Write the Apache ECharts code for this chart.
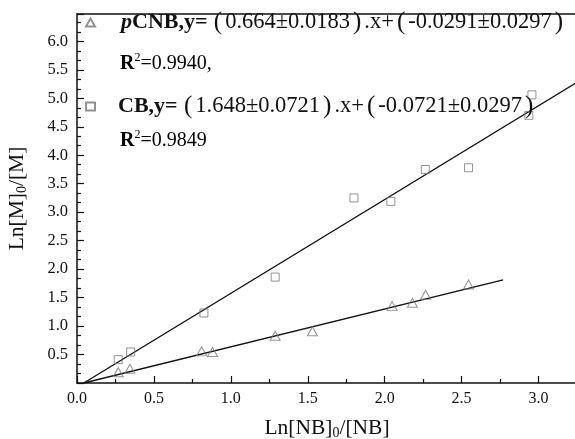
<!DOCTYPE html>
<html>
<head>
<meta charset="utf-8">
<script src="https://cdn.jsdelivr.net/npm/echarts@6/dist/echarts.min.js"></script>
<style>
  html, body { margin: 0; padding: 0; background: #fff; }
  #main { width: 575px; height: 439px; }
</style>
</head>
<body>
<div id="main"></div>
<script>
// 数据：pCNB（三角形）
const pcnbX = [0.268, 0.344, 0.81, 0.881, 1.288, 1.53, 2.048, 2.18, 2.266, 2.545];
const pcnbY = [0.19, 0.25, 0.555, 0.545, 0.83, 0.91, 1.35, 1.41, 1.55, 1.73];
// 数据：CB（方形）
const cbX = [0.268, 0.349, 0.825, 1.288, 1.8, 2.04, 2.264, 2.545, 2.937, 2.957];
const cbY = [0.41, 0.545, 1.23, 1.86, 3.25, 3.19, 3.75, 3.78, 4.7, 5.06];
// 拟合直线端点
const pcnbFitX = [0.044, 2.77];
const pcnbFitY = [0, 1.81];
const cbFitX = [0.044, 3.25];
const cbFitY = [0, 5.28];
// 图例文字
const pcnbEq = ['0.664±0.0183', '-0.0291±0.0297'];
const cbEq = ['1.648±0.0721', '-0.0721±0.0297'];
const pcnbR2 = '=0.9940,';
const cbR2 = '=0.9849';

const zip = (xs, ys) => xs.map((x, i) => [x, ys[i]]);
const font = '"Liberation Serif", "Times New Roman", serif';

const myChart = echarts.init(document.getElementById('main'));

const richEq = {
  i: { fontFamily: font, fontSize: 22, fontStyle: 'italic', fontWeight: 'bold', color: '#111', padding: [0, 0, 0, 21] },
  b: { fontFamily: font, fontSize: 22, fontWeight: 'bold', color: '#111' },
  b2: { fontFamily: font, fontSize: 22, fontWeight: 'bold', color: '#111', padding: [0, 0, 0, 18] },
  n: { fontFamily: font, fontSize: 22.5, color: '#111' },
  p: { fontFamily: font, fontSize: 25, color: '#111', padding: [0, 3, 0, 3] },
  r: { fontFamily: font, fontSize: 20, fontWeight: 'bold', color: '#111' },
  rn: { fontFamily: font, fontSize: 20, color: '#111' },
  s: { fontFamily: font, fontSize: 12, color: '#111', padding: [0, 0, 12, 0] },
};

// 拼接方程文字
const eqText = (eq) => `{p|(}{n|${eq[0]}}{p|)}{n|.x+}{p|(}{n|${eq[1]}}{p|)}`;

// 坐标轴名称（带下标0）
const nameRich = {
  n: { fontFamily: font, fontSize: 21.5, color: '#111' },
  s: { fontFamily: font, fontSize: 14, color: '#111', padding: [10, 0, 0, 0] },
};

const halfStep = (v) => Math.abs(v * 2 - Math.round(v * 2)) < 1e-6;

const options = {
  animation: false,
  grid: { left: 77, right: -2, top: 14, bottom: 56, outerBoundsMode: 'none' },
  legend: {
    orient: 'vertical',
    left: 85,
    top: 10,
    padding: 0,
    itemWidth: 9,
    itemHeight: 8,
    itemGap: 59,
    selectedMode: false,
    data: ['pCNB', 'CB'],
    formatter(name) {
      if (name === 'pCNB') return `{i|p}{b|CNB,y=} ${eqText(pcnbEq)}`;
      return `{b2|CB,y=} ${eqText(cbEq)}`;
    },
    textStyle: { lineHeight: 24, rich: richEq },
  },
  graphic: [
    {
      type: 'text', left: 120, top: 52,
      style: { text: `{r|R}{s|2}{rn|${pcnbR2}}`, rich: richEq },
    },
    {
      type: 'text', left: 120, top: 129,
      style: { text: `{r|R}{s|2}{rn|${cbR2}}`, rich: richEq },
    },
  ],
  xAxis: [
    {
      type: 'value',
      min: 0,
      max: 3.25,
      interval: 0.5,
      name: '{n|Ln[NB]}{s|0}{n|/[NB]}',
      nameLocation: 'middle',
      nameGap: 33,
      nameTextStyle: { rich: nameRich },
      axisLine: { show: true, lineStyle: { color: '#111', width: 1.5 } },
      axisTick: { show: true, inside: true, length: 7, lineStyle: { color: '#111', width: 1.2 } },
      minorTick: { show: true, splitNumber: 2, length: 4, lineStyle: { color: '#111', width: 1.2 } },
      splitLine: { show: false },
      axisLabel: {
        margin: 8,
        fontFamily: font,
        fontSize: 16,
        color: '#111',
        formatter(v) {
          return halfStep(v) ? v.toFixed(1) : '';
        },
      },
    },
    {
      type: 'value',
      position: 'top',
      min: 0,
      max: 3.25,
      axisLine: { show: true, onZero: false, lineStyle: { color: '#111', width: 1.5 } },
      axisTick: { show: false },
      axisLabel: { show: false },
      splitLine: { show: false },
    },
  ],
  yAxis: {
    type: 'value',
    min: 0,
    max: 6.48,
    interval: 0.5,
    name: '{n|Ln[M]}{s|0}{n|/[M]}',
    nameLocation: 'middle',
    nameGap: 48,
    nameTextStyle: { rich: nameRich },
    axisLine: { show: true, lineStyle: { color: '#111', width: 1.5 } },
    axisTick: { show: true, inside: true, length: 7, lineStyle: { color: '#111', width: 1.2 } },
    minorTick: { show: true, splitNumber: 3, length: 4, lineStyle: { color: '#111', width: 1.2 } },
    splitLine: { show: false },
    axisLabel: {
      margin: 9,
      fontFamily: font,
      fontSize: 16.5,
      color: '#111',
      formatter(v) {
        if (v === 0 || v > 6.01) return '';
        return halfStep(v) ? v.toFixed(1) : '';
      },
    },
  },
  series: [
    {
      name: 'pCNB fit',
      type: 'line',
      data: zip(pcnbFitX, pcnbFitY),
      showSymbol: false,
      lineStyle: { color: '#111', width: 1.4 },
      z: 2,
    },
    {
      name: 'CB fit',
      type: 'line',
      data: zip(cbFitX, cbFitY),
      showSymbol: false,
      clip: true,
      lineStyle: { color: '#111', width: 1.4 },
      z: 2,
    },
    {
      name: 'pCNB',
      type: 'scatter',
      data: zip(pcnbX, pcnbY),
      symbol: 'triangle',
      symbolSize: [10, 9],
      itemStyle: { color: 'rgba(255,255,255,0)', borderColor: '#777', borderWidth: 1 },
      z: 3,
    },
    {
      name: 'CB',
      type: 'scatter',
      data: zip(cbX, cbY),
      symbol: 'rect',
      symbolSize: 8,
      itemStyle: { color: 'rgba(255,255,255,0)', borderColor: '#777', borderWidth: 1 },
      z: 3,
    },
  ],
};
myChart.setOption(options);
</script>
</body>
</html>
